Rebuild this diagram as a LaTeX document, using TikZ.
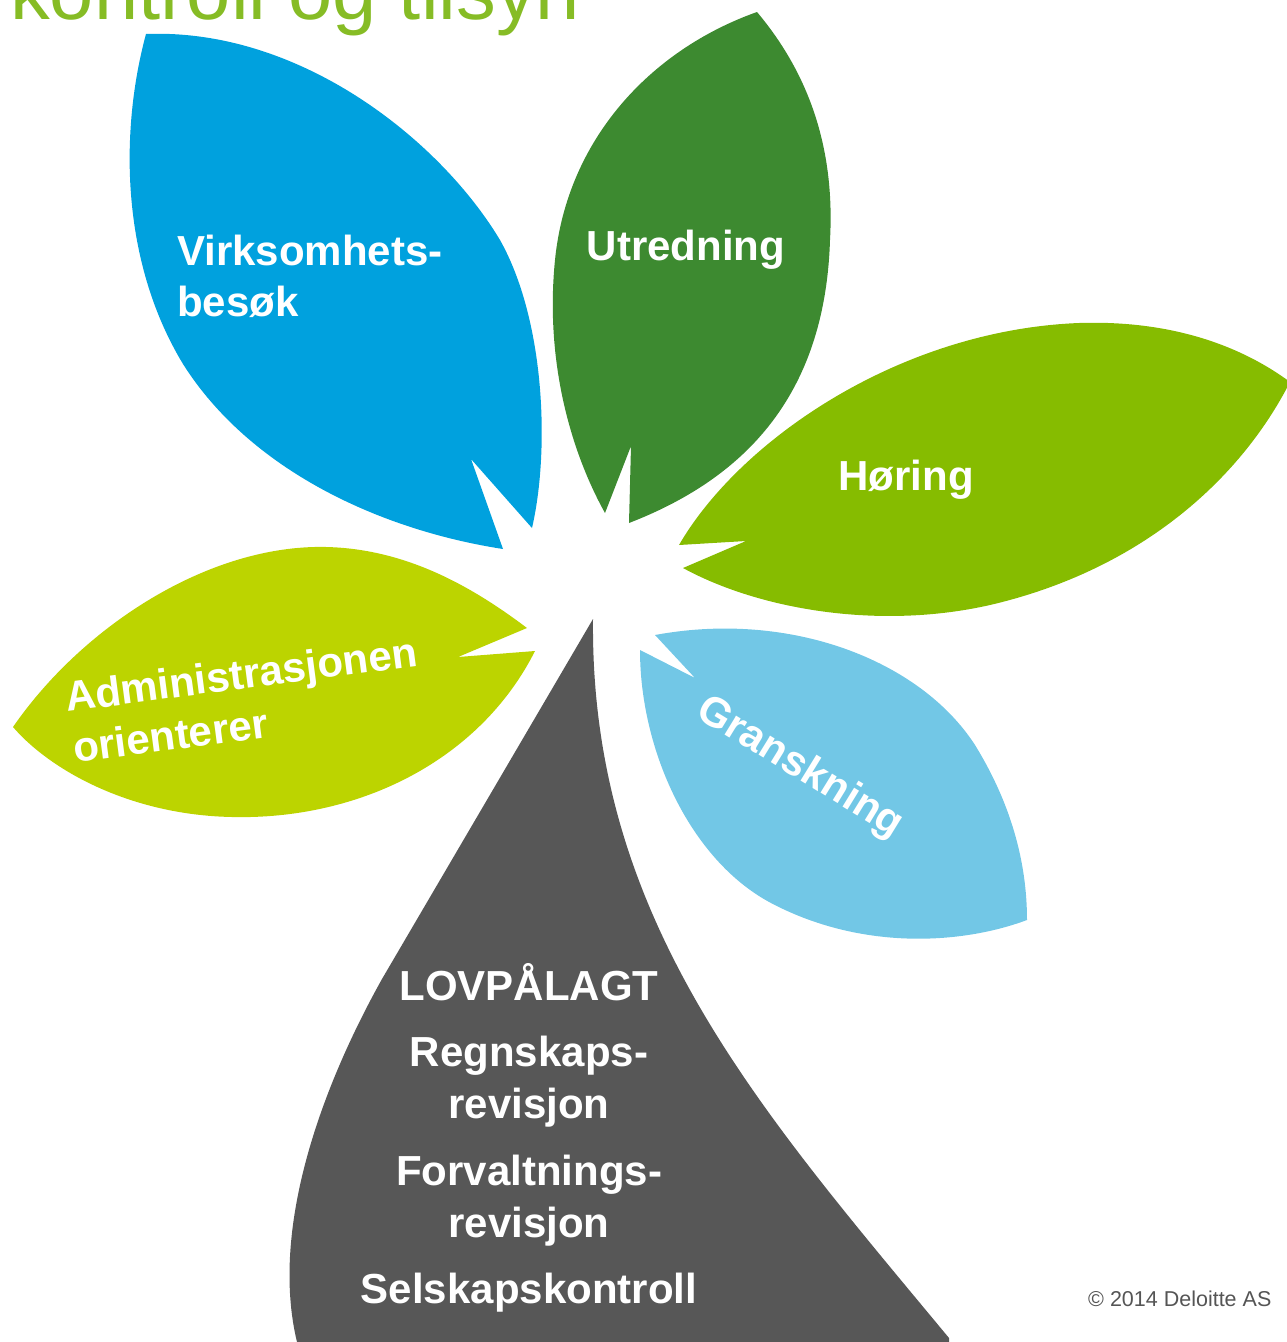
\documentclass[tikz,border=0pt]{standalone}
\usepackage{fontspec}
\setmainfont{Liberation Sans}
\definecolor{cblue}{HTML}{00A1DE}
\definecolor{cdgreen}{HTML}{3D8A30}
\definecolor{cgreen}{HTML}{86BC00}
\definecolor{cygreen}{HTML}{BCD400}
\definecolor{clblue}{HTML}{72C7E6}
\definecolor{cgrey}{HTML}{575757}
\definecolor{ctitle}{HTML}{86BC25}
\definecolor{ccopy}{HTML}{555555}
\begin{document}
\begin{tikzpicture}[x=1pt,y=-1pt,
  lbl/.style={text=white,inner sep=0,font=\fontsize{42}{50}\selectfont\bfseries}]
\useasboundingbox (0,0) rectangle (1287,1342);
% title
\node[anchor=base west,inner sep=0,text=ctitle,font=\fontsize{79.5}{90}\selectfont] (title) at (10,19.5) {kontroll og tilsyn};
% blue petal
\fill[cblue] (471,459) -- (532,528)
  .. controls (550,450) and (545,320) .. (500,240)
  .. controls (440,140) and (300,28) .. (146,34)
  .. controls (120,130) and (120,260) .. (183,364)
  .. controls (250,470) and (380,530) .. (503,549) -- cycle;
% dark green petal
\fill[cdgreen] (631,446) -- (629,523)
  .. controls (740,480) and (825,400) .. (830,240)
  .. controls (835,150) and (810,75) .. (757,12)
  .. controls (650,50) and (567,140) .. (555,260)
  .. controls (545,360) and (570,450) .. (605,513) -- cycle;
% green petal
\fill[cgreen] (746,541) -- (679,545)
  .. controls (740,440) and (900,330) .. (1079,323)
  .. controls (1170,320) and (1240,345) .. (1290,382)
  .. controls (1240,480) and (1140,570) .. (990,605)
  .. controls (880,630) and (760,610) .. (683,568) -- cycle;
% yellow-green petal
\fill[cygreen] (458,657) -- (535,651)
  .. controls (480,760) and (360,820) .. (232,817)
  .. controls (130,815) and (50,770) .. (13,727)
  .. controls (80,630) and (200,550) .. (314,547)
  .. controls (400,545) and (470,585) .. (527,628) -- cycle;
% light blue petal
\fill[clblue] (695,678) -- (655,635)
  .. controls (790,610) and (920,660) .. (975,745)
  .. controls (1015,810) and (1027,870) .. (1027,920)
  .. controls (960,945) and (860,950) .. (771,903)
  .. controls (690,860) and (640,750) .. (640,650) -- cycle;
% grey stem
\fill[cgrey] (593,619) -- (382,979)
  .. controls (320,1090) and (270,1230) .. (297,1342)
  -- (298,1350) -- (949,1345) -- (949,1338)
  .. controls (760,1110) and (590,920) .. (593,619) -- cycle;
% labels
\node[lbl,anchor=base west] (v1) at (177,265) {Virksomhets-};
\node[lbl,anchor=base west] (v2) at (177,316) {besøk};
\node[lbl,anchor=base] (utr) at (686,260) {Utredning};
\node[lbl,anchor=base] (hor) at (906,490) {Høring};
\node[lbl,anchor=base west,rotate=7.5] (ad1) at (67,712) {Administrasjonen};
\node[lbl,anchor=base west,rotate=7.5] (ad2) at (75,763) {orienterer};
\node[lbl,rotate=-31.6] (gran) at (800,768) {Granskning};
\node[lbl,anchor=base] (l1) at (529,1000) {LOVPÅLAGT};
\node[lbl,anchor=base] (l2) at (529,1066) {Regnskaps-};
\node[lbl,anchor=base] (l3) at (529,1118) {revisjon};
\node[lbl,anchor=base] (l4) at (529,1185) {Forvaltnings-};
\node[lbl,anchor=base] (l5) at (529,1237) {revisjon};
\node[lbl,anchor=base] (l6) at (529,1303) {Selskapskontroll};
% copyright
\node[anchor=base west,inner sep=0,text=ccopy,font=\fontsize{21.5}{26}\selectfont] (copy) at (1088,1306) {© 2014 Deloitte AS};
\end{tikzpicture}
\end{document}
